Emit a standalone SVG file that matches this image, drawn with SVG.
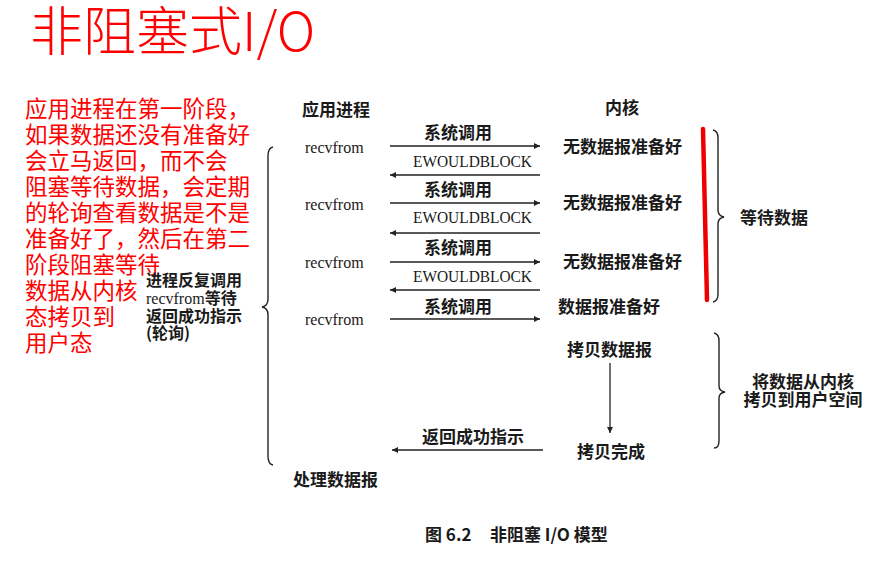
<svg xmlns="http://www.w3.org/2000/svg" width="883" height="567" viewBox="0 0 883 567">
<style>
.t{font-family:"Noto Sans CJK SC","Noto Sans",sans-serif;fill:#1a1a1a;font-weight:700;font-size:17px}
.s{font-size:16px}
.lat{font-family:"Liberation Serif","Noto Sans CJK SC",serif;fill:#1a1a1a;font-size:16px}
.red{font-family:"Noto Sans CJK SC","Noto Sans",sans-serif;fill:#f00;font-size:22.5px}
.ln{stroke:#222;stroke-width:1.3;fill:none}
.br{stroke:#222;stroke-width:1.4;fill:none}
</style>
<defs>
<marker id="ah" viewBox="0 0 10 10" refX="10" refY="5" markerWidth="8" markerHeight="6" markerUnits="userSpaceOnUse" orient="auto">
<path d="M0,0 L10,5 L0,10 z" fill="#222"/>
</marker>
</defs>
<rect width="883" height="567" fill="#fff"/>

<g id="title"><text x="30" y="51" style="font-family:'Noto Sans CJK SC','Noto Sans',sans-serif;font-weight:300;font-size:53px;fill:#f00">非阻塞式I/O</text></g>

<g id="note">
<text class="red" x="25" y="116.5">应用进程在第一阶段，</text>
<text class="red" x="25" y="142.6">如果数据还没有准备好</text>
<text class="red" x="25" y="168.7">会立马返回，而不会</text>
<text class="red" x="25" y="194.8">阻塞等待数据，会定期</text>
<text class="red" x="25" y="220.9">的轮询查看数据是不是</text>
<text class="red" x="25" y="247">准备好了，然后在第二</text>
<text class="red" x="25" y="273.1">阶段阻塞等待</text>
<text class="red" x="25" y="299.2">数据从内核</text>
<text class="red" x="25" y="325.3">态拷贝到</text>
<text class="red" x="25" y="351.4">用户态</text>
</g>

<g id="poll-label">
<text class="t s" x="146" y="286">进程反复调用</text>
<text class="t s" x="146" y="304"><tspan style="font-family:'Liberation Serif',serif;font-weight:400">recvfrom</tspan>等待</text>
<text class="t s" x="146" y="322">返回成功指示</text>
<text class="t s" x="146" y="339">(轮询)</text>
</g>

<g id="app-header"><text class="t" x="302" y="116">应用进程</text></g>
<g id="kernel-header"><text class="t" x="605" y="114">内核</text></g>

<g id="app-side">
<text class="lat" x="305" y="153">recvfrom</text>
<text class="lat" x="305" y="210">recvfrom</text>
<text class="lat" x="305" y="268">recvfrom</text>
<text class="lat" x="305" y="325">recvfrom</text>
<text class="t" x="293" y="486">处理数据报</text>
</g>

<g id="kernel-side">
<text class="t" x="563" y="153">无数据报准备好</text>
<text class="t" x="563" y="209">无数据报准备好</text>
<text class="t" x="563" y="268">无数据报准备好</text>
<text class="t" x="558" y="313">数据报准备好</text>
<text class="t" x="567" y="356">拷贝数据报</text>
<text class="t" x="577" y="458">拷贝完成</text>
</g>

<g id="wait-label"><text class="t" x="740" y="224">等待数据</text></g>
<g id="copy-label">
<text class="t" x="803" y="388" text-anchor="middle">将数据从内核</text>
<text class="t" x="803" y="406" text-anchor="middle">拷贝到用户空间</text>
</g>

<g id="connectors">
<line class="ln" x1="390" y1="146" x2="540" y2="146" marker-end="url(#ah)"/>
<line class="ln" x1="540" y1="175" x2="390" y2="175" marker-end="url(#ah)"/>
<line class="ln" x1="390" y1="203" x2="540" y2="203" marker-end="url(#ah)"/>
<line class="ln" x1="540" y1="233" x2="390" y2="233" marker-end="url(#ah)"/>
<line class="ln" x1="390" y1="262" x2="540" y2="262" marker-end="url(#ah)"/>
<line class="ln" x1="540" y1="290" x2="390" y2="290" marker-end="url(#ah)"/>
<line class="ln" x1="390" y1="319" x2="540" y2="319" marker-end="url(#ah)"/>
<line class="ln" x1="610" y1="363" x2="610" y2="433" marker-end="url(#ah)"/>
<line class="ln" x1="543" y1="450" x2="392" y2="450" marker-end="url(#ah)"/>
<text class="t" x="458" y="139" text-anchor="middle">系统调用</text>
<text class="t" x="458" y="196" text-anchor="middle">系统调用</text>
<text class="t" x="458" y="254" text-anchor="middle">系统调用</text>
<text class="t" x="458" y="313" text-anchor="middle">系统调用</text>
<text class="lat" x="413" y="167" textLength="119" lengthAdjust="spacingAndGlyphs">EWOULDBLOCK</text>
<text class="lat" x="413" y="223" textLength="119" lengthAdjust="spacingAndGlyphs">EWOULDBLOCK</text>
<text class="lat" x="413" y="282" textLength="119" lengthAdjust="spacingAndGlyphs">EWOULDBLOCK</text>
<text class="t" x="422" y="443">返回成功指示</text>
</g>

<g id="braces">
<path class="br" d="M273,147 Q268,148 268,156 L268,299 Q268,306 262,307 Q268,308 268,315 L268,456 Q268,464 273,465"/>
<path class="br" d="M713,130 Q718,131 718,138 L718,210 Q718,216 724,217 Q718,218 718,224 L718,294 Q718,301 713,302"/>
<path class="br" d="M714,333 Q719,334 719,341 L719,386 Q719,391 725,392 Q719,393 719,398 L719,441 Q719,448 714,448"/>
</g>

<g id="red-mark"><path d="M703,129 L707,300" stroke="#e00" stroke-width="4.5" stroke-linecap="round" fill="none"/></g>

<g id="caption">
<text class="t" x="425" y="541">图 6.2</text>
<text class="t" x="490" y="541">非阻塞 I/O 模型</text>
</g>
</svg>
